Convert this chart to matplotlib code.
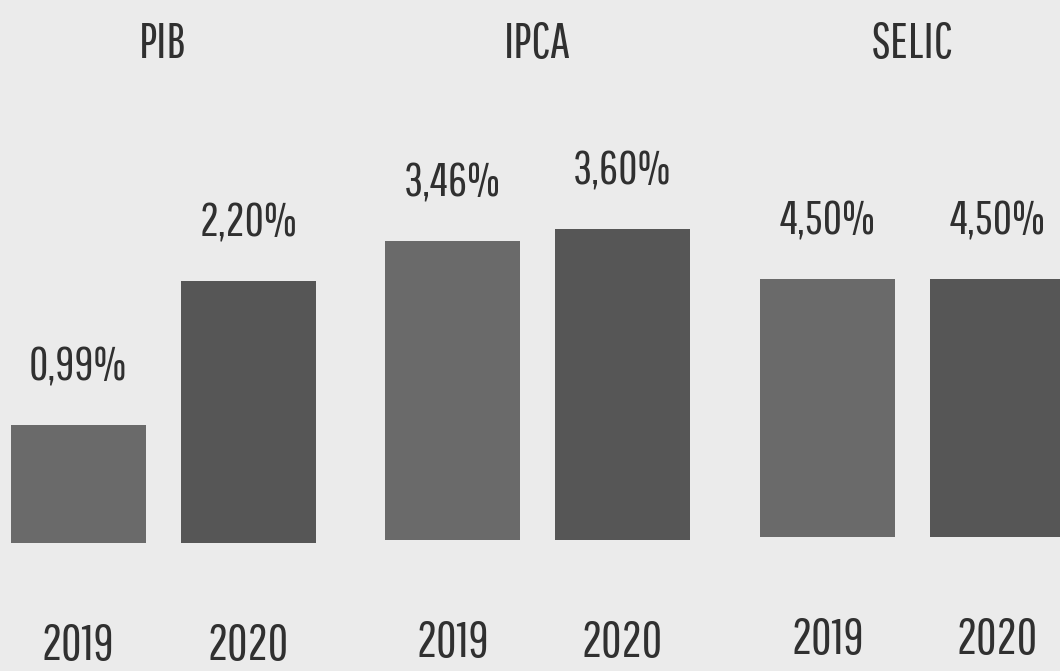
import matplotlib
matplotlib.use("Agg")
import matplotlib.pyplot as plt
from matplotlib import font_manager

# ---- data ----
panels = ["PIB", "IPCA", "SELIC"]
years = ["2019", "2020"]
pib = [0.99, 2.20]
ipca = [3.46, 3.60]
selic = [4.50, 4.50]
values = [pib, ipca, selic]
labels = [["0,99%", "2,20%"], ["3,46%", "3,60%"], ["4,50%", "4,50%"]]

# ---- style ----
names = {f.name for f in font_manager.fontManager.ttflist}
candidates = ["Pathway Gothic One", "Saira Extra Condensed", "Alumni Sans",
              "League Gothic", "Antonio", "Liberation Sans Narrow", "DejaVu Sans"]
FONT = next(c for c in candidates if c in names or c == "DejaVu Sans")
plt.rcParams["font.family"] = [FONT, "DejaVu Sans"]

BG = "#ebebeb"
bar_colors = ["#6a6a6a", "#565656"]
TXT = "#303030"

W, H = 1060, 671
fig = plt.figure(figsize=(W / 100, H / 100), dpi=100, facecolor=BG)

# panel geometry in pixels: (center of first bar, bar bottom y, top of tallest bar y)
geom = [
    (78, 543, 281),
    (452.5, 540, 229),
    (827.5, 537, 279),
]
unit = 170.0  # pixel distance between bar centers

for i, (name, vals, labs) in enumerate(zip(panels, values, labels)):
    c0, ybot, ytop = geom[i]
    left = (c0 - unit / 2) / W
    width = 2 * unit / W
    bottom = (H - ybot) / H
    height = (ybot - ytop) / H
    ax = fig.add_axes([left, bottom, width, height])
    ax.set_facecolor("none")
    ax.set_xlim(-0.5, 1.5)
    ax.set_ylim(0, max(vals))
    bars = ax.bar([0, 1], vals, width=135 / unit, color=bar_colors, clip_on=False)
    for b, lab in zip(bars, labs):
        ax.annotate(lab, (b.get_x() + b.get_width() / 2, b.get_height()),
                    xytext=(0, 42), textcoords="offset points",
                    ha="center", va="center", fontsize=34, color=TXT)
    for x, yr in zip([0, 1], years):
        ax.annotate(yr, (x, 0), xytext=(0, -74), textcoords="offset points",
                    ha="center", va="center", fontsize=36, color=TXT)
    ax.axis("off")
    # panel title
    fig.text((c0 + unit / 2) / W, 1 - 44 / H, name, ha="center", va="center",
             fontsize=36, color=TXT)

fig.savefig("out.png", dpi=100, facecolor=BG)
